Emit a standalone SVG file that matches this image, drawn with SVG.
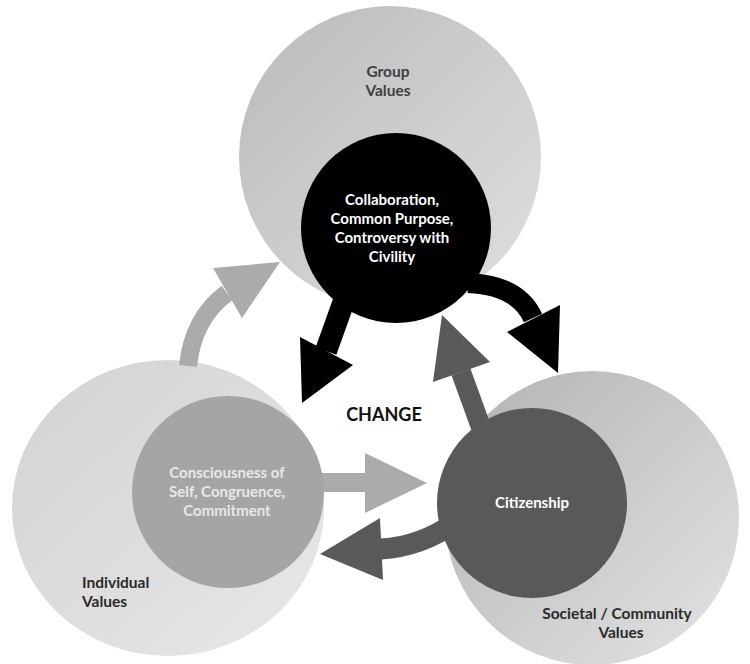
<svg xmlns="http://www.w3.org/2000/svg" width="750" height="664" viewBox="0 0 750 664">
  <defs>
    <linearGradient id="gTop" x1="0" y1="0" x2="1" y2="1">
      <stop offset="0" stop-color="#bababa"/>
      <stop offset="1" stop-color="#e0e0e0"/>
    </linearGradient>
    <linearGradient id="gLeft" x1="0" y1="0" x2="1" y2="1">
      <stop offset="0" stop-color="#d2d2d2"/>
      <stop offset="1" stop-color="#e8e8e8"/>
    </linearGradient>
    <linearGradient id="gRight" x1="0" y1="0" x2="1" y2="1">
      <stop offset="0" stop-color="#b2b2b2"/>
      <stop offset="1" stop-color="#e4e4e4"/>
    </linearGradient>
  </defs>
  <style>
    text { font-family: Lato, "Liberation Sans", sans-serif; font-weight: 700; text-anchor: middle; }
    .outer-label { font-size: 15.5px; fill: #2a2a2a; }
    .group-label { fill: #404040; }
    .inner-label { font-size: 15px; fill: #ffffff; }
    .muted { fill: #e8e8e8; }
    .left { text-anchor: start; }
    .light-shaft { fill: none; stroke: #ababab; }
    .light-head { fill: #ababab; }
    .dark-shaft { fill: none; stroke: #595959; }
    .dark-head { fill: #595959; }
    .black-shaft { fill: none; stroke: #000000; }
    .black-head { fill: #000000; }
  </style>

  <rect width="750" height="664" fill="#ffffff"/>

  <!-- outer value spheres -->
  <g id="group-values">
    <circle cx="390" cy="157" r="151" fill="url(#gTop)"/>
    <text class="outer-label group-label" x="388" y="77">Group</text>
    <text class="outer-label group-label" x="388" y="96">Values</text>
  </g>
  <g id="individual-values">
    <ellipse cx="168" cy="508" rx="156" ry="148" fill="url(#gLeft)"/>
    <text class="outer-label left" x="82" y="588">Individual</text>
    <text class="outer-label left" x="82" y="607">Values</text>
  </g>
  <g id="societal-values">
    <circle cx="592" cy="518" r="147" fill="url(#gRight)"/>
    <text class="outer-label" x="617" y="619">Societal / Community</text>
    <text class="outer-label" x="621" y="638">Values</text>
  </g>

  <!-- connectors -->
  <g id="connectors">
    <path class="light-shaft" stroke-width="18" d="M188,366 Q193,318 227,293"/>
    <polygon class="light-head" points="213,268 280,262 242,318"/>

    <path class="black-shaft" stroke-width="22" d="M345,298 L326,351"/>
    <polygon class="black-head" points="300,337 353,365 302,403"/>

    <path class="black-shaft" stroke-width="20" d="M468,283 Q518,285 533,318"/>
    <polygon class="black-head" points="507,332 560,305 558,373"/>

    <path class="dark-shaft" stroke-width="20" d="M482,430 L461,372"/>
    <polygon class="dark-head" points="433,382 490,362 442,315"/>

    <rect class="light-head" x="312" y="473" width="55" height="19"/>
    <polygon class="light-head" points="365,453 427,483 365,513"/>

    <path class="dark-shaft" stroke-width="21" d="M456,522 Q420,547 381,549"/>
    <polygon class="dark-head" points="380,518 320,554 383,580"/>
  </g>

  <!-- inner value circles -->
  <g id="collaboration">
    <circle cx="396" cy="228" r="95" fill="#000000"/>
    <text class="inner-label" x="392" y="205">Collaboration,</text>
    <text class="inner-label" x="392" y="224">Common Purpose,</text>
    <text class="inner-label" x="392" y="243">Controversy with</text>
    <text class="inner-label" x="392" y="262">Civility</text>
  </g>
  <g id="consciousness">
    <circle cx="228" cy="492" r="96" fill="#a5a5a5"/>
    <text class="inner-label muted" x="227" y="478">Consciousness of</text>
    <text class="inner-label muted" x="227" y="497">Self, Congruence,</text>
    <text class="inner-label muted" x="227" y="516">Commitment</text>
  </g>
  <g id="citizenship">
    <circle cx="532" cy="503" r="95" fill="#595959"/>
    <text class="inner-label" x="532" y="508">Citizenship</text>
  </g>

  <g id="change">
    <text x="384" y="421" font-size="18" fill="#111111">CHANGE</text>
  </g>
</svg>
